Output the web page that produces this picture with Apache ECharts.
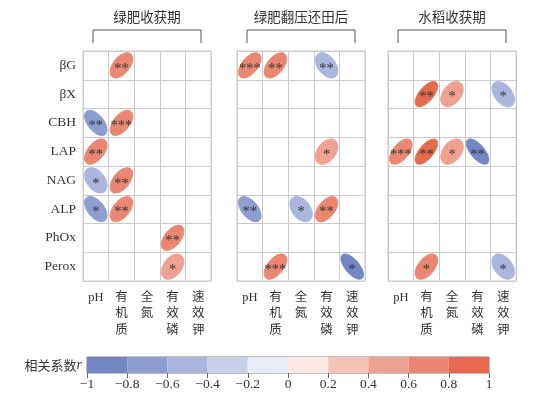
<!DOCTYPE html>
<html><head><meta charset="utf-8">
<script src="https://cdn.jsdelivr.net/npm/echarts@6/dist/echarts.min.js"></script>
<style>html,body{margin:0;padding:0;background:#fff}#c{width:547px;height:398px}</style>
</head><body><div id="c"></div>
<script>
var enzymes = ['βG','βX','CBH','LAP','NAG','ALP','PhOx','Perox'];
var soils = ['pH','有机质','全氮','有效磷','速效钾'];
var panelTitles = ['绿肥收获期','绿肥翻压还田后','水稻收获期'];
// [soil, enzyme, r, significance]
var panel1 = [
  ['有机质','βG',0.65,'**'],
  ['pH','CBH',-0.68,'**'],
  ['有机质','CBH',0.68,'***'],
  ['pH','LAP',0.65,'**'],
  ['pH','NAG',-0.5,'*'],
  ['有机质','NAG',0.65,'**'],
  ['pH','ALP',-0.64,'*'],
  ['有机质','ALP',0.65,'**'],
  ['有效磷','PhOx',0.66,'**'],
  ['有效磷','Perox',0.5,'*']
];
var panel2 = [
  ['pH','βG',0.68,'***'],
  ['有机质','βG',0.65,'**'],
  ['有效磷','βG',-0.55,'**'],
  ['有效磷','LAP',0.5,'*'],
  ['pH','ALP',-0.66,'**'],
  ['全氮','ALP',-0.5,'*'],
  ['有效磷','ALP',0.65,'**'],
  ['有机质','Perox',0.68,'***'],
  ['速效钾','Perox',-0.81,'*']
];
var panel3 = [
  ['有机质','βX',0.8,'**'],
  ['全氮','βX',0.5,'*'],
  ['速效钾','βX',-0.55,'*'],
  ['pH','LAP',0.7,'***'],
  ['有机质','LAP',0.82,'**'],
  ['全氮','LAP',0.5,'*'],
  ['有效磷','LAP',-0.82,'**'],
  ['有机质','Perox',0.65,'*'],
  ['速效钾','Perox',-0.52,'*']
];
var cbTicks = [-1,-0.8,-0.6,-0.4,-0.2,0,0.2,0.4,0.6,0.8,1];
var binColors = ['#7387c4','#8c9dd0','#aab6de','#c9d1ea','#e8edf7','#fde8e4','#f6c3b8','#f0a292','#ea8671','#e56a4f'];

var panels = [panel1, panel2, panel3];
var serif = "'Liberation Serif','Noto Sans CJK SC',serif";
var gridLefts = [83, 237, 388];
var PW = 128, PT = 51, PH = 230;

var grids = [], xAxes = [], yAxes = [], series = [];
gridLefts.forEach(function(l, i){
  grids.push({left:l, top:PT, width:PW, height:PH, show:true, borderColor:'#cbcbcb', borderWidth:1});
  xAxes.push({type:'category', gridIndex:i, data:soils, position:'bottom',
    axisLine:{show:false}, axisTick:{show:false},
    splitLine:{show:true, interval:0, lineStyle:{color:'#cbcbcb', width:1}},
    axisLabel:{interval:0, margin:8, fontSize:12.5, lineHeight:16.5, color:'#333', fontFamily:serif,
      formatter:function(v){ return v==='pH' ? v : v.split('').join('\n'); }}});
  yAxes.push({type:'category', gridIndex:i, data:enzymes, inverse:true,
    axisLine:{show:false}, axisTick:{show:false},
    splitLine:{show:true, interval:0, lineStyle:{color:'#cbcbcb', width:1}},
    axisLabel:{show:i===0, interval:0, margin:7, fontSize:13.5, color:'#333', fontFamily:serif}});
  (function(src){
  series.push({type:'custom', xAxisIndex:i, yAxisIndex:i,
    dimensions:[{name:'x',type:'ordinal'},{name:'y',type:'ordinal'},{name:'r',type:'float'}],
    encode:{x:0, y:1},
    data: src.map(function(d){ return [d[0], d[1], d[2]]; }),
    renderItem:function(params, api){
      var c = api.coord([api.value(0), api.value(1)]);
      var s = api.size([1,1]);
      var r = api.value(2);
      var d = Math.acos(r * 0.8);
      var pts = [];
      for (var k=0;k<72;k++){
        var t = k/72*2*Math.PI;
        var x = Math.cos(t + d/2)/2, y = Math.cos(t - d/2)/2;
        pts.push([c[0] + x*s[0]*0.88, c[1] - y*s[1]*0.88]);
      }
      var sig = src[params.dataIndex][3];
      var col = api.visual('color');
      return {type:'group', children:[
        {type:'polygon', shape:{points:pts}, style:{fill:col, stroke:col, lineWidth:1}},
        {type:'text', style:{text:sig, x:c[0], y:c[1]+3.5, align:'center', verticalAlign:'middle',
          fill:'#333', font:'14.5px Liberation Serif'}}
      ]};
    }});
  })(panels[i]);
});

// colorbar grid
grids.push({left:87, top:357, width:402, height:16, show:true, borderColor:'#808080', borderWidth:1});
xAxes.push({type:'value', gridIndex:3, min:-1, max:1, interval:0.2,
  axisLine:{show:false}, splitLine:{show:false},
  axisTick:{show:true, length:5, lineStyle:{color:'#666'}},
  axisLabel:{margin:5, fontSize:13.5, color:'#333', fontFamily:serif,
    formatter:function(v){ var s = String(Math.round(v*10)/10); return s.replace('-', '\u2212'); }}});
yAxes.push({type:'value', gridIndex:3, min:0, max:1, show:false});
var cbData = [];
for (var b=0;b<cbTicks.length-1;b++){ cbData.push([cbTicks[b], cbTicks[b+1], (cbTicks[b]+cbTicks[b+1])/2]); }
series.push({type:'custom', xAxisIndex:3, yAxisIndex:3, encode:{x:[0,1]},
  dimensions:['lo','hi','mid'],
  data: cbData,
  renderItem:function(params, api){
    var p1 = api.coord([api.value(0), 1]);
    var p2 = api.coord([api.value(1), 0]);
    return {type:'rect', shape:{x:p1[0], y:p1[1], width:p2[0]-p1[0], height:p2[1]-p1[1]},
      style:{fill:api.visual('color')}};
  }});

var pieces = [];
for (var p=0;p<binColors.length;p++){
  pieces.push({gte:cbTicks[p], lt:cbTicks[p+1], color:binColors[p]});
}
pieces[pieces.length-1].lte = 1; delete pieces[pieces.length-1].lt;

var graphics = [];
gridLefts.forEach(function(l, i){
  graphics.push({type:'text', x:l+PW/2, y:17, style:{text:panelTitles[i], align:'center', verticalAlign:'middle',
    font:'13.5px "Noto Sans CJK SC"', fill:'#333'}});
  graphics.push({type:'polyline', shape:{points:[[l+10,43],[l+10,30],[l+PW-10,30],[l+PW-10,43]]},
    style:{stroke:'#555', lineWidth:1, fill:null}});
});
graphics.push({type:'text', x:82, y:365, style:{text:'相关系数{i|r}', align:'right', verticalAlign:'middle',
  font:'13px "Noto Sans CJK SC"', fill:'#333',
  rich:{i:{fontStyle:'italic', fontFamily:'Liberation Serif', fontSize:14, fill:'#333'}}}});

var chart = echarts.init(document.getElementById('c'), null, {renderer:'canvas'});
chart.setOption({
  animation:false,
  grid:grids, xAxis:xAxes, yAxis:yAxes, series:series,
  visualMap:{type:'piecewise', show:false, dimension:2, seriesIndex:[0,1,2,3], pieces:pieces},
  graphic:graphics
});
</script></body></html>
